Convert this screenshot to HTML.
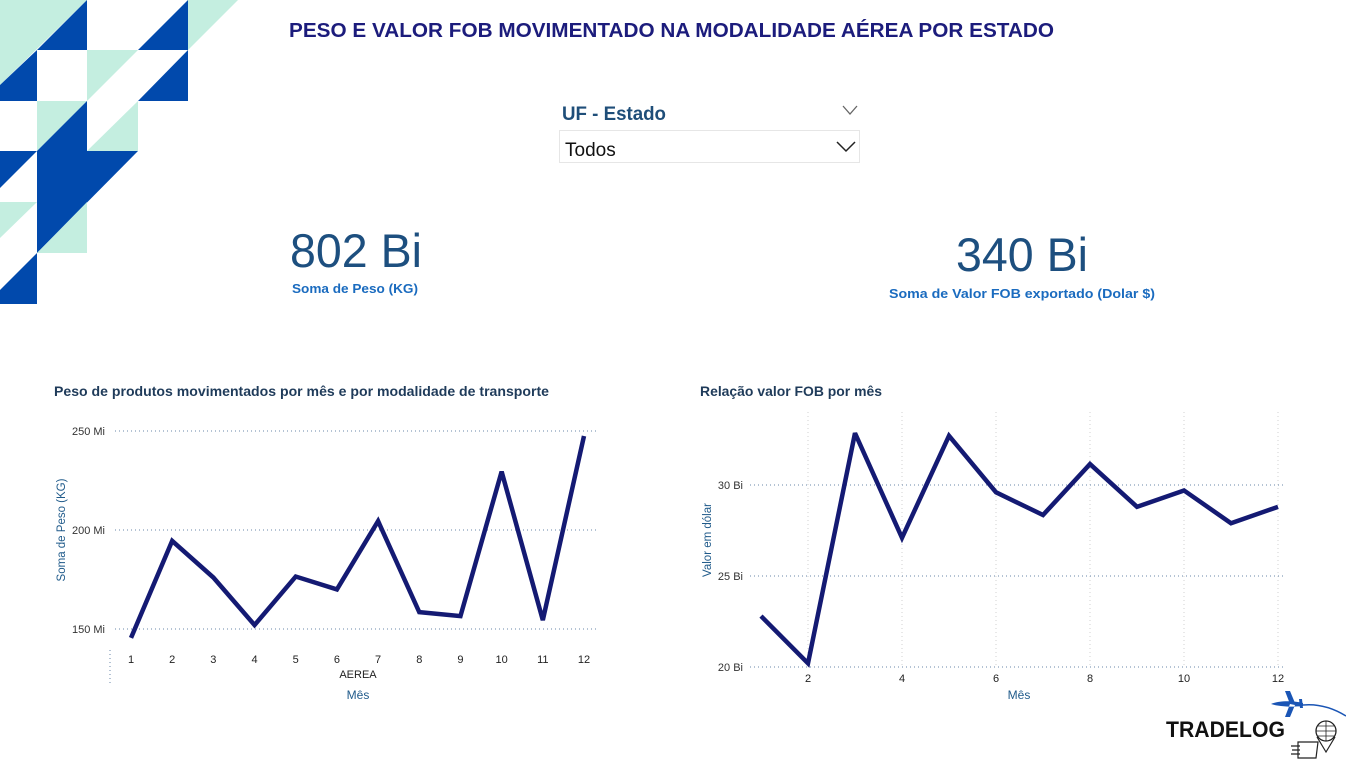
<!DOCTYPE html>
<html><head><meta charset="utf-8"><style>
html,body{margin:0;padding:0;background:#fff;width:1346px;height:761px;overflow:hidden}
svg{display:block;font-family:"Liberation Sans",sans-serif}
</style></head><body>
<svg id="root" width="1346" height="761" viewBox="0 0 1346 761">
<g>
<polygon points="0,0 87,0 0,85" fill="#c4eee0"/>
<polygon points="87,0 87,50 37,50" fill="#0149ac"/>
<polygon points="0,85 37,50 37,101 0,101" fill="#0149ac"/>
<polygon points="188,0 188,50 138,50" fill="#0149ac"/>
<polygon points="188,0 238,0 188,50" fill="#c4eee0"/>
<polygon points="87,50 138,50 87,101" fill="#c4eee0"/>
<polygon points="188,50 188,101 138,101" fill="#0149ac"/>
<polygon points="37,101 87,101 37,151" fill="#c4eee0"/>
<polygon points="87,101 87,151 37,151" fill="#0149ac"/>
<polygon points="138,101 138,151 87,151" fill="#c4eee0"/>
<polygon points="0,151 37,151 0,188" fill="#0149ac"/>
<polygon points="37,151 138,151 37,253" fill="#0149ac"/>
<polygon points="87,202 87,253 37,253" fill="#c4eee0"/>
<polygon points="0,202 37,202 0,238" fill="#c4eee0"/>
<polygon points="37,253 37,304 0,304 0,290" fill="#0149ac"/>
</g>
<text x="289" y="37" font-size="20" font-weight="bold" fill="#1c1c7c" textLength="765" lengthAdjust="spacingAndGlyphs">PESO E VALOR FOB MOVIMENTADO NA MODALIDADE AÉREA POR ESTADO</text>

<g>
<text x="562" y="120" font-size="19" font-weight="bold" fill="#1f4e79" textLength="104" lengthAdjust="spacingAndGlyphs">UF - Estado</text>
<polyline points="843,106 850,114 857,106" fill="none" stroke="#666" stroke-width="1.3"/>
<rect x="559.5" y="130.5" width="300" height="32" fill="#fff" stroke="#e6e6e6"/>
<text x="565" y="156" font-size="19" fill="#111">Todos</text>
<polyline points="837,142 846,151 855,142" fill="none" stroke="#222" stroke-width="1.5"/>
</g>

<g>
<text x="290" y="267" font-size="47" fill="#1d4f7f" textLength="132" lengthAdjust="spacingAndGlyphs">802 Bi</text>
<text x="292" y="293" font-size="12.5" font-weight="bold" fill="#1a6bbf" textLength="126" lengthAdjust="spacingAndGlyphs">Soma de Peso (KG)</text>
</g>
<g>
<text x="956" y="271" font-size="47" fill="#1d4f7f" textLength="132" lengthAdjust="spacingAndGlyphs">340 Bi</text>
<text x="889" y="298" font-size="12.5" font-weight="bold" fill="#1a6bbf" textLength="266" lengthAdjust="spacingAndGlyphs">Soma de Valor FOB exportado (Dolar $)</text>
</g>

<text x="54" y="396" font-size="14" font-weight="bold" fill="#1f3b5a" textLength="495" lengthAdjust="spacingAndGlyphs">Peso de produtos movimentados por mês e por modalidade de transporte</text>
<text x="700" y="396" font-size="14" font-weight="bold" fill="#1f3b5a" textLength="182" lengthAdjust="spacingAndGlyphs">Relação valor FOB por mês</text>
<g id="c1"></g>
<g id="c2"></g>

<g>
<text x="1166" y="737" font-size="22" font-weight="bold" fill="#111" textLength="119" lengthAdjust="spacingAndGlyphs">TRADELOG</text>
<path d="M1303,705 Q1325,703 1346,716" fill="none" stroke="#1a55b5" stroke-width="1.5"/>
<path d="M1271,704 C1280,700 1295,701 1303,703 L1303,706 C1295,707 1280,707 1271,704 Z M1285,691 L1290,691 L1295,703 L1290,704 Z M1285,717 L1290,717 L1295,705 L1290,704 Z M1299,699 L1302,699 L1303,708 L1300,708 Z" fill="#1a55b5"/>
<circle cx="1326" cy="731" r="10" fill="none" stroke="#222" stroke-width="1.3"/>
<path d="M1316,731 L1336,731 M1326,721 L1326,741 M1318,726 L1334,726 M1318,736 L1334,736" stroke="#222" stroke-width="0.8"/>
<path d="M1317,737 L1326,752 L1335,737" fill="none" stroke="#222" stroke-width="1.2"/>
<path d="M1298,742 L1318,742 L1316,758 L1298,758 Z M1291,746 L1300,746 M1292,750 L1300,750 M1291,754 L1300,754" fill="none" stroke="#222" stroke-width="1.2"/>
</g>
</svg>
<script>
// Chart 1 data
const months1 = [1,2,3,4,5,6,7,8,9,10,11,12];
const peso = [145.5,194.5,176,152,176.5,170,204.5,158.5,156.5,229.5,154.5,247.5];
const yTicks1 = [150,200,250];
const yTickLabels1 = ["150 Mi","200 Mi","250 Mi"];
// Chart 2 data
const months2 = [1,2,3,4,5,6,7,8,9,10,11,12];
const fob = [22.8,20.2,32.85,27.1,32.7,29.6,28.35,31.15,28.8,29.7,27.9,28.8];
const yTicks2 = [20,25,30];
const yTickLabels2 = ["20 Bi","25 Bi","30 Bi"];
const xTicks2 = [2,4,6,8,10,12];

const NS = "http://www.w3.org/2000/svg";
function mk(parent, tag, attrs, text){
  const e = document.createElementNS(NS, tag);
  for (const k in attrs) e.setAttribute(k, attrs[k]);
  if (text !== undefined) e.textContent = text;
  parent.appendChild(e);
  return e;
}

// chart 1
(function(){
  const g = document.getElementById('c1');
  const x = m => 131 + (m - 1) * (584 - 131) / 11;
  const y = v => 629 - (v - 150) * (629 - 431) / 100;
  yTicks1.forEach((t, i) => {
    const l = mk(g, 'line', {x1:115, x2:598, y1:y(t), y2:y(t), stroke:'#6a87a8', 'stroke-width':1, 'stroke-dasharray':'1 3'});
    
    
    const tx = mk(g, 'text', {x:105, y:y(t)+4, 'font-size':11, fill:'#333', 'text-anchor':'end'}, yTickLabels1[i]);
    
    
  });
  const sep = mk(g, 'line', {x1:110, x2:110, y1:650, y2:685, stroke:'#6a87a8', 'stroke-dasharray':'1 3'});
  
  
  months1.forEach(m => {
    const tx = mk(g, 'text', {x:x(m), y:663, 'font-size':11, fill:'#222', 'text-anchor':'middle'}, String(m));
    
    
  });
  const cat = mk(g, 'text', {x:358, y:678, 'font-size':11, fill:'#222', 'text-anchor':'middle'}, 'AEREA');
  
  
  const xt = mk(g, 'text', {x:358, y:699, 'font-size':12, fill:'#1f5a8a', 'text-anchor':'middle'}, 'Mês');
  
  
  const yt = mk(g, 'text', {x:0, y:0, 'font-size':11.5, fill:'#1f5a8a', 'text-anchor':'middle', transform:'translate(65,530) rotate(-90)'}, 'Soma de Peso (KG)');
  
  
  const pts = months1.map((m, i) => x(m) + ',' + y(peso[i])).join(' ');
  const pl = mk(g, 'polyline', {points:pts, fill:'none', stroke:'#141a73', 'stroke-width':4.5, 'stroke-linejoin':'miter', 'stroke-miterlimit':3});
  
  
})();

// chart 2
(function(){
  const g = document.getElementById('c2');
  const x = m => 761 + (m - 1) * (1278 - 761) / 11;
  const y = v => 667 - (v - 20) * (667 - 485) / 10;
  xTicks2.forEach(m => {
    const l = mk(g, 'line', {x1:x(m), x2:x(m), y1:412, y2:667, stroke:'#d0d0d0', 'stroke-dasharray':'1 3'});
    
    
    const tx = mk(g, 'text', {x:x(m), y:682, 'font-size':11, fill:'#222', 'text-anchor':'middle'}, String(m));
    
    
  });
  yTicks2.forEach((t, i) => {
    const l = mk(g, 'line', {x1:750, x2:1283, y1:y(t), y2:y(t), stroke:'#6a87a8', 'stroke-dasharray':'1 3'});
    
    
    const tx = mk(g, 'text', {x:743, y:y(t)+4, 'font-size':11, fill:'#333', 'text-anchor':'end'}, yTickLabels2[i]);
    
    
  });
  const xt = mk(g, 'text', {x:1019, y:699, 'font-size':12, fill:'#1f5a8a', 'text-anchor':'middle'}, 'Mês');
  
  
  const yt = mk(g, 'text', {x:0, y:0, 'font-size':11.5, fill:'#1f5a8a', 'text-anchor':'middle', transform:'translate(711,540) rotate(-90)'}, 'Valor em dólar');
  
  
  const pts = months2.map((m, i) => x(m) + ',' + y(fob[i])).join(' ');
  const pl = mk(g, 'polyline', {points:pts, fill:'none', stroke:'#141a73', 'stroke-width':4.5, 'stroke-linejoin':'miter', 'stroke-miterlimit':3});
  
  
})();
</script>
</body></html>
